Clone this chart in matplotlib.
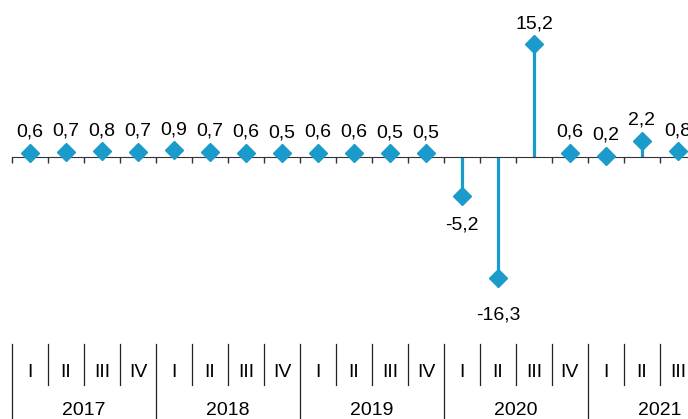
import numpy as np
import matplotlib
matplotlib.use('Agg')
import matplotlib.pyplot as plt
import matplotlib.transforms as mtransforms

# quarterly values, 2017 I .. 2021 III
quarters = ['I', 'II', 'III', 'IV'] * 4 + ['I', 'II', 'III']
years = ['2017', '2018', '2019', '2020', '2021']
values = [0.6, 0.7, 0.8, 0.7, 0.9, 0.7, 0.6, 0.5, 0.6, 0.6, 0.5, 0.5,
          -5.2, -16.3, 15.2, 0.6, 0.2, 2.2, 0.8]

blue = '#1a9bcb'
plt.rcParams['font.family'] = ['Liberation Sans', 'DejaVu Sans']

fig = plt.figure(figsize=(6.88, 4.19), dpi=100)
ax = fig.add_axes([12 / 688, 1 - 330 / 419, 676 / 688, 330 / 419])

x = np.arange(len(values))
ax.vlines(x, 0, values, color=blue, lw=2.3, zorder=2)
ax.plot(x, values, 'D', color=blue, ms=9, zorder=3)

# data labels
for xi, v in zip(x, values):
    lbl = f'{v:.1f}'.replace('.', ',')
    if v >= 0:
        t = ax.annotate(lbl, (xi, v), xytext=(0, 12), textcoords='offset pixels',
                        ha='center', va='bottom', fontsize=14)
    else:
        off = -21 if v > -10 else -28
        t = ax.annotate(lbl, (xi, v), xytext=(0, off), textcoords='offset pixels',
                        ha='center', va='top', fontsize=14)
    t.set_clip_on(True)

ax.set_xlim(-0.5, 18.28)
ax.set_ylim(-23.28, 21.13)

for s in ['left', 'right', 'top']:
    ax.spines[s].set_visible(False)
ax.spines['bottom'].set_position(('data', 0))
ax.spines['bottom'].set_color('#333333')
ax.set_yticks([])
ax.set_xticks(np.arange(-0.5, len(values) - 0.5, 1))
ax.set_xticklabels([])
ax.tick_params(axis='x', direction='out', length=4.5, width=1, color='#333333')

# two-level category axis at the bottom
trans = mtransforms.blended_transform_factory(ax.transData, fig.transFigure)
top = 1 - 344 / 419
qbot = 1 - 385 / 419
for i in range(len(values)):
    b = i - 0.5
    ybot = 0.0 if i % 4 == 0 else qbot
    ax.plot([b, b], [top, ybot], color='#222222', lw=0.9, transform=trans, clip_on=False)
for i, q in enumerate(quarters):
    ax.text(i, 1 - 372 / 419, q, transform=trans, ha='center', va='center', fontsize=14)
for j, yr in enumerate(years):
    ax.text(j * 4 + 1.5, 1 - 410 / 419, yr, transform=trans, ha='center', va='center', fontsize=14)

fig.savefig('out.png', dpi=100)
